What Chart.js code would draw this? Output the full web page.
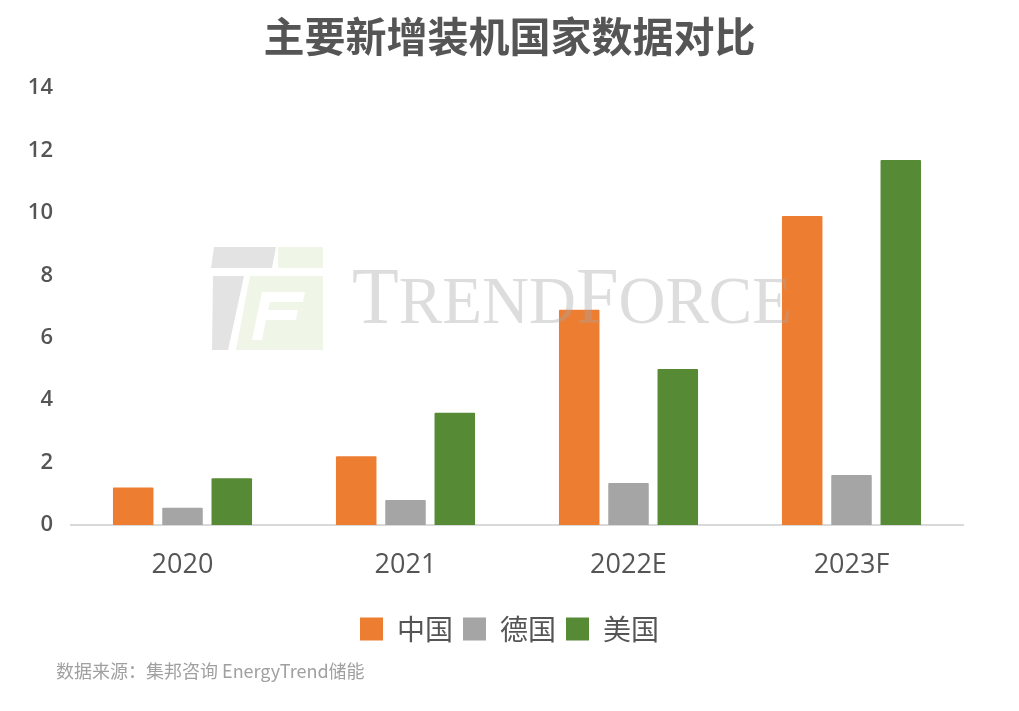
<!DOCTYPE html>
<html>
<head>
<meta charset="utf-8">
<script src="https://cdn.jsdelivr.net/npm/chart.js@4"></script>
<style>
  html,body{margin:0;padding:0;background:#fff;}
  #wrap{position:relative;width:1019px;height:711px;overflow:hidden;}
  #source{position:absolute;left:56px;top:659px;font-family:"Noto Sans CJK SC","Noto Sans",sans-serif;font-size:18px;color:#a0a0a0;white-space:nowrap;line-height:22px;}
</style>
</head>
<body>
<div id="wrap">
  <canvas id="c" width="1019" height="711"></canvas>
  <div id="source">数据来源：集邦咨询 EnergyTrend储能</div>
</div>
<script>
const titleText = '主要新增装机国家数据对比';
const categories = ['2020', '2021', '2022E', '2023F'];
const seriesNames = ['中国', '德国', '美国'];
const chinaValues = [1.2, 2.2, 6.9, 9.9];
const germanyValues = [0.55, 0.8, 1.35, 1.6];
const usaValues = [1.5, 3.6, 5.0, 11.7];
const yTicks = [0, 2, 4, 6, 8, 10, 12, 14];
const colors = ['#ED7D31', '#A5A5A5', '#568A35'];

const watermark = {
  id: 'watermark',
  afterDatasetsDraw(chart) {
    const ctx = chart.ctx;
    ctx.save();
    // logo
    ctx.fillStyle = 'rgba(170,170,170,0.33)';
    ctx.beginPath();
    ctx.moveTo(214, 247); ctx.lineTo(276, 247); ctx.lineTo(272, 268); ctx.lineTo(211, 268); ctx.closePath(); ctx.fill();
    ctx.beginPath();
    ctx.moveTo(213, 276); ctx.lineTo(244, 276); ctx.lineTo(228, 350); ctx.lineTo(212, 350); ctx.closePath(); ctx.fill();
    ctx.fillStyle = 'rgba(190,215,160,0.25)';
    ctx.fillRect(278, 247, 45, 21);
    ctx.beginPath();
    ctx.moveTo(250, 276); ctx.lineTo(323, 276); ctx.lineTo(323, 350); ctx.lineTo(236, 350); ctx.closePath(); ctx.fill();
    ctx.fillStyle = '#ffffff';
    ctx.beginPath();
    ctx.moveTo(262, 292); ctx.lineTo(305, 292); ctx.lineTo(303, 302); ctx.lineTo(270, 302); ctx.lineTo(268, 310); ctx.lineTo(298, 310); ctx.lineTo(296, 320); ctx.lineTo(266, 320); ctx.lineTo(262, 340); ctx.lineTo(252, 340); ctx.closePath(); ctx.fill();
    // text with small caps, translucent over the bars
    ctx.fillStyle = 'rgba(165,165,165,0.38)';
    ctx.textBaseline = 'alphabetic';
    const parts = [['T', 80], ['REND', 68], ['F', 80], ['ORCE', 68]];
    let totalW = 0;
    parts.forEach(p => { ctx.font = p[1] + 'px "Liberation Serif"'; totalW += ctx.measureText(p[0]).width; });
    const target = 440;
    const sx = target / totalW;
    ctx.translate(352, 323);
    ctx.scale(sx, 1);
    let x = 0;
    parts.forEach(p => { ctx.font = p[1] + 'px "Liberation Serif"'; ctx.fillText(p[0], x, 0); x += ctx.measureText(p[0]).width; });
    ctx.restore();
  }
};

new Chart(document.getElementById('c'), {
  type: 'bar',
  data: {
    labels: categories,
    datasets: [
      { label: seriesNames[0], data: chinaValues, backgroundColor: colors[0] },
      { label: seriesNames[1], data: germanyValues, backgroundColor: colors[1] },
      { label: seriesNames[2], data: usaValues, backgroundColor: colors[2] }
    ]
  },
  options: {
    responsive: false,
    animation: false,
    devicePixelRatio: 1,
    layout: { padding: { left: 0, right: 0, top: 0, bottom: 58 } },
    datasets: { bar: { categoryPercentage: 0.663, barPercentage: 0.822, borderRadius: 1 } },
    plugins: {
      title: {
        display: true,
        text: titleText,
        color: '#555555',
        font: { family: '"Noto Sans CJK SC"', size: 41, weight: 'bold' },
        padding: { top: 12, bottom: 27 }
      },
      legend: {
        display: true,
        position: 'bottom',
        labels: {
          color: '#555555',
          font: { family: '"Noto Sans CJK SC"', size: 28 },
          boxWidth: 23, boxHeight: 23,
          padding: 10
        }
      },
      tooltip: { enabled: false }
    },
    scales: {
      x: {
        grid: { display: false, drawTicks: false },
        border: { display: true, color: '#d9d9d9', width: 2 },
        ticks: { color: '#555555', font: { family: '"Open Sans"', size: 27 }, padding: 24 },
        afterFit(scale) { scale.height = 80; }
      },
      y: {
        min: 0, max: 14,
        afterBuildTicks(scale) { scale.ticks = yTicks.map(v => ({ value: v })); },
        grid: { display: false, drawTicks: false },
        border: { display: false },
        ticks: { color: '#555555', font: { family: '"Open Sans"', size: 22, weight: '600' }, padding: 18 },
        afterFit(scale) { scale.width = 71; }
      },
      yRight: {
        position: 'right',
        min: 0, max: 14,
        grid: { display: false, drawTicks: false },
        border: { display: false },
        ticks: { display: false },
        afterFit(scale) { scale.width = 56; }
      }
    }
  },
  plugins: [watermark]
});
</script>
</body>
</html>
